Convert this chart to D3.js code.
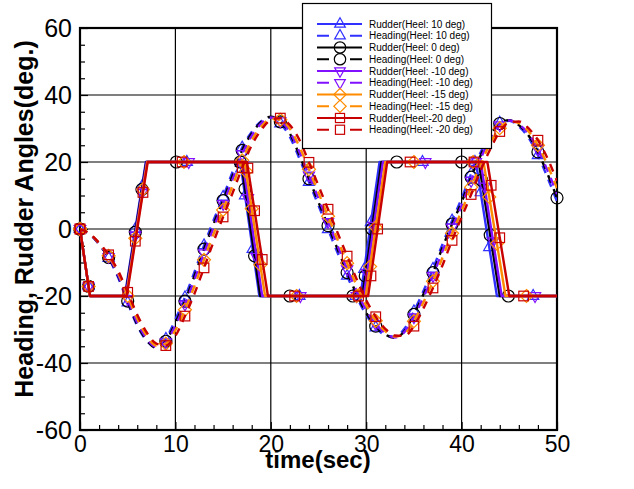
<!DOCTYPE html>
<html><head><meta charset="utf-8">
<script src="https://cdn.jsdelivr.net/npm/d3@7"></script>
<style>
body{margin:0;background:#fff}
svg{display:block}
text{font-family:"Liberation Sans",Arial,Helvetica,sans-serif;fill:#000}
</style>
</head><body>
<svg id="chart" width="634" height="489"></svg>
<script>
// ---------------- DATA ----------------
const heels = ["10", "0", "-10", "-15", "-20"];
const seriesColors = ["#3030ff", "#000000", "#8010ff", "#ff8c00", "#c80000"];
const seriesSymbols = ["triangle", "circle", "triangleDown", "diamond", "square"];

const legendLabels = [
  "Rudder(Heel: 10 deg)", "Heading(Heel: 10 deg)",
  "Rudder(Heel: 0 deg)", "Heading(Heel: 0 deg)",
  "Rudder(Heel: -10 deg)", "Heading(Heel: -10 deg)",
  "Rudder(Heel: -15 deg)", "Heading(Heel: -15 deg)",
  "Rudder(Heel:-20 deg)", "Heading(Heel: -20 deg)"
];

const xMajorTicks = [0, 10, 20, 30, 40, 50];
const yMajorTicks = [-60, -40, -20, 0, 20, 40, 60];
const xMinorTicks = [2,4,6,8,12,14,16,18,22,24,26,28,32,34,36,38,42,44,46,48];
const yMinorTicks = [-55,-50,-45,-35,-30,-25,-15,-10,-5,5,10,15,25,30,35,45,50,55];

// rudder angle: break-point times (s) and values (deg)
const rudderValues = [0, -20, -20, 20, 20, -20, -20, 20, 20, -20, -20];
const rudderTime10  = [0, 1.05, 4.70, 6.90, 16.80, 18.80, 29.40, 31.40, 41.50, 43.70, 50];
const rudderTime0   = [0, 1.05, 4.75, 6.95, 16.90, 18.90, 29.60, 31.60, 41.80, 44.00, 50];
const rudderTimeM10 = [0, 1.05, 4.80, 7.00, 17.05, 19.10, 29.75, 31.75, 42.00, 44.20, 50];
const rudderTimeM15 = [0, 1.05, 4.85, 7.05, 17.25, 19.40, 29.95, 32.00, 42.30, 44.60, 50];
const rudderTimeM20 = [0, 1.05, 4.90, 7.10, 17.50, 19.70, 30.20, 32.20, 42.70, 45.00, 50];

// rudder marker times (s)
const rudderMarks10  = [0, 0.9, 5.8, 6.5, 11.2, 16.9, 17.3, 18.1, 23.0, 28.9, 29.8, 30.5, 35.9, 41.4, 42.0, 42.9, 47.5];
const rudderMarks0   = [0, 0.9, 5.8, 6.5, 10.1, 16.8, 17.3, 18.3, 22.0, 28.6, 29.9, 30.6, 33.2, 40.0, 42.1, 43.0, 44.9];
const rudderMarksM10 = [0, 0.9, 5.8, 6.5, 11.4, 17.1, 17.6, 18.5, 23.1, 29.0, 30.1, 30.8, 36.2, 41.5, 42.4, 43.3, 47.7];
const rudderMarksM15 = [0, 0.9, 5.8, 6.6, 10.9, 17.4, 18.0, 18.9, 22.7, 29.0, 30.4, 31.0, 35.0, 41.2, 42.9, 43.7, 46.8];
const rudderMarksM20 = [0, 0.9, 5.8, 6.6, 10.7, 17.6, 18.3, 19.1, 22.5, 29.2, 30.5, 31.2, 34.6, 41.3, 43.1, 44.0, 46.5];

// heading angle sampled every second, t = 0..50 s
const headingTime = d3.range(0, 51, 1);
const heading10 = [0,-1.5,-4.6,-8.7,-14.5,-22,-28.9,-33.4,-35.3,-32.8,-27,-20.4,-12.8,-4.9,2.6,9.6,17.1,24.3,29,32.2,33.3,31.5,27.5,21,14,7,-0.1,-7.1,-14,-20.3,-25.6,-29.4,-31.7,-32.2,-29.8,-24.6,-18.5,-11.9,-4.5,2.5,9.1,16.5,22.9,28.5,31.7,32.3,30.6,27.3,22,15.4,8.2];
const heading0  = [0,-1.5,-4.5,-8.5,-14,-21.5,-28.5,-33.2,-35.5,-33.5,-28,-21.5,-14,-6,1.5,8.5,16,23.5,28.5,32,33.5,32,28.5,22,15,8,1,-6,-13,-19.5,-25,-29,-31.5,-32.5,-30.5,-25.5,-19.5,-13,-5.5,1.5,8,15.5,22,28,31.5,32.5,31,28,23,16.5,9.3];
const headingM10 = [0,-1.5,-4.4,-8.3,-13.7,-20.9,-27.9,-32.7,-35.2,-33.8,-28.8,-22.5,-15.1,-7.2,0.4,7.5,14.9,22.4,27.8,31.5,33.3,32.2,29,23,16,9.1,2.1,-5,-12,-18.5,-24.2,-28.4,-31.1,-32.4,-30.8,-26.3,-20.4,-14,-6.6,0.5,7,14.4,21,27.1,31,32.4,31.2,28.5,23.8,17.5,10.4];
const headingM15 = [0,-1.4,-4.3,-8,-13.1,-20,-26.8,-31.9,-34.8,-34.2,-30.2,-24.1,-17,-9.2,-1.5,5.7,13,20.5,26.5,30.6,32.9,32.6,29.9,24.6,17.8,10.8,3.8,-3.2,-10.2,-16.9,-22.8,-27.4,-30.5,-32.1,-31.3,-27.5,-21.9,-15.6,-8.5,-1.3,5.4,12.5,19.4,25.6,30.1,32.1,31.6,29.2,25,19.1,12.2];
const headingM20 = [0,-1.4,-4.1,-7.7,-12.5,-18.9,-25.6,-30.9,-34.2,-34.8,-31.9,-26,-19.3,-11.6,-3.8,3.6,10.8,18.3,25,29.6,32.5,33.1,31,26.6,19.9,12.9,5.9,-1.1,-8.1,-15,-21.2,-26.2,-29.8,-31.8,-31.9,-29,-23.7,-17.6,-10.8,-3.4,3.5,10.3,17.5,23.8,29.1,31.8,32.1,30.1,26.5,21.1,14.3];

// sample indices that carry a marker on the heading curves
const headingMarks0 = [0, 3, 5, 9, 11, 13, 15, 17, 21, 24, 26, 28, 31, 35, 37, 39, 41, 44, 48, 50];
const headingMarksOther = [0, 3, 5, 9, 11, 13, 15, 17, 21, 24, 26, 28, 31, 35, 37, 39, 41, 44, 48];

const rudderTimes = [rudderTime10, rudderTime0, rudderTimeM10, rudderTimeM15, rudderTimeM20];
const rudderMarks = [rudderMarks10, rudderMarks0, rudderMarksM10, rudderMarksM15, rudderMarksM20];
const headings = [heading10, heading0, headingM10, headingM15, headingM20];
const headingMarks = [headingMarksOther, headingMarks0, headingMarksOther, headingMarksOther, headingMarksOther];

// ---------------- CHART ----------------
const svg = d3.select("#chart");
const L = 80, R = 557, T = 28, B = 430;
const x = d3.scaleLinear().domain([0, 50]).range([L, R]);
const y = d3.scaleLinear().domain([-60, 60]).range([B, T]);

svg.append("rect").attr("width", 634).attr("height", 489).attr("fill", "#fff");

// grid lines
svg.append("g").selectAll("line").data(xMajorTicks.slice(1, -1)).join("line")
  .attr("x1", d => x(d)).attr("x2", d => x(d)).attr("y1", T).attr("y2", B)
  .attr("stroke", "#000").attr("stroke-width", 1.2);
svg.append("g").selectAll("line").data(yMajorTicks.slice(1, -1)).join("line")
  .attr("y1", d => y(d)).attr("y2", d => y(d)).attr("x1", L).attr("x2", R)
  .attr("stroke", "#000").attr("stroke-width", 1.2);

// axes
const fmt = d => String(d);
const xMinor = svg.append("g").attr("transform", `translate(0,${B})`)
  .call(d3.axisBottom(x).tickValues(xMinorTicks).tickSize(-5).tickFormat(""));
const xMajor = svg.append("g").attr("transform", `translate(0,${B})`)
  .call(d3.axisBottom(x).tickValues(xMajorTicks).tickSize(-8).tickPadding(6).tickFormat(fmt));
const yMinor = svg.append("g").attr("transform", `translate(${L},0)`)
  .call(d3.axisLeft(y).tickValues(yMinorTicks).tickSize(-5).tickFormat(""));
const yMajor = svg.append("g").attr("transform", `translate(${L},0)`)
  .call(d3.axisLeft(y).tickValues(yMajorTicks).tickSize(-8).tickPadding(8).tickFormat(fmt));
[xMinor, xMajor, yMinor, yMajor].forEach(g => {
  g.select(".domain").remove();
  g.selectAll(".tick line").attr("stroke", "#000").attr("stroke-width", 1.2);
});
xMajor.selectAll("text").attr("font-size", 23).attr("font-family", "Liberation Sans, Arial, sans-serif").attr("fill", "#000");
yMajor.selectAll("text").attr("font-size", 25).attr("font-family", "Liberation Sans, Arial, sans-serif").attr("fill", "#000");

// frame
svg.append("rect").attr("x", L).attr("y", T).attr("width", R - L).attr("height", B - T)
  .attr("fill", "none").attr("stroke", "#000").attr("stroke-width", 2.2);

// axis titles
svg.append("text").attr("x", 318).attr("y", 468).attr("text-anchor", "middle")
  .attr("font-size", 24).attr("font-weight", "bold").text("time(sec)");
svg.append("text").attr("transform", "translate(33,219) rotate(-90)").attr("text-anchor", "middle")
  .attr("font-size", 25).attr("font-weight", "bold").text("Heading, Rudder Angles(deg.)");

// clip for lines
svg.append("clipPath").attr("id", "plotclip").append("rect")
  .attr("x", L).attr("y", T).attr("width", R - L).attr("height", B - T);

function drawMarker(g, kind, cx, cy, color, s) {
  s = s || 1;
  if (kind === "circle") {
    g.append("circle").attr("cx", cx).attr("cy", cy).attr("r", 6 * s)
      .attr("fill", "none").attr("stroke", color).attr("stroke-width", 1.2);
  } else if (kind === "square") {
    g.append("rect").attr("x", cx - 4.8 * s).attr("y", cy - 4.8 * s).attr("width", 9.6 * s).attr("height", 9.6 * s)
      .attr("fill", "none").attr("stroke", color).attr("stroke-width", 1.2);
  } else {
    let pts;
    if (kind === "triangle") pts = [[0, -6.5], [5.6, 3.3], [-5.6, 3.3]];
    else if (kind === "triangleDown") pts = [[0, 6.5], [5.6, -3.3], [-5.6, -3.3]];
    else pts = [[0, -6.5], [6.5, 0], [0, 6.5], [-6.5, 0]];
    g.append("path").attr("d", "M" + pts.map(p => [cx + p[0] * s, cy + p[1] * s].join(",")).join("L") + "Z")
      .attr("fill", "none").attr("stroke", color).attr("stroke-width", 1.2);
  }
}

const lineGen = d3.line().x(d => x(d[0])).y(d => y(d[1]));
const curveGen = d3.line().x(d => x(d[0])).y(d => y(d[1])).curve(d3.curveMonotoneX);

heels.forEach((h, i) => {
  const col = seriesColors[i], sym = seriesSymbols[i];
  const g = svg.append("g");
  // rudder
  const rt = rudderTimes[i];
  const rData = rt.map((t, k) => [t, rudderValues[k]]);
  g.append("path").attr("d", lineGen(rData)).attr("clip-path", "url(#plotclip)")
    .attr("fill", "none").attr("stroke", col).attr("stroke-width", 2.4).attr("stroke-linejoin", "round");
  const rScale = d3.scaleLinear().domain(rt).range(rudderValues);
  rudderMarks[i].forEach(t => drawMarker(g, sym, x(t), y(rScale(t)), col));
  // heading
  const hv = headings[i];
  const hData = headingTime.map((t, k) => [t, hv[k]]);
  g.append("path").attr("d", curveGen(hData)).attr("clip-path", "url(#plotclip)")
    .attr("fill", "none").attr("stroke", col).attr("stroke-width", 2.4).attr("stroke-dasharray", "8,7");
  headingMarks[i].forEach(k => drawMarker(g, sym, x(headingTime[k]), y(hv[k]), col));
});

// legend
const lg = svg.append("g");
lg.append("rect").attr("x", 302.5).attr("y", 3.5).attr("width", 189).attr("height", 145)
  .attr("fill", "#fff").attr("stroke", "#000").attr("stroke-width", 1.2);
legendLabels.forEach((lab, j) => {
  const i = Math.floor(j / 2), dashed = j % 2 === 1;
  const col = seriesColors[i];
  const cy = 24 + j * 11.75;
  lg.append("line").attr("x1", 317).attr("x2", 362).attr("y1", cy).attr("y2", cy)
    .attr("stroke", col).attr("stroke-width", 2.2)
    .attr("stroke-dasharray", dashed ? "12,21,12" : null);
  drawMarker(lg, seriesSymbols[i], 340, cy, col, 0.95);
  lg.append("text").attr("x", 369).attr("y", cy + 3.6).attr("font-size", 10).text(lab);
});
</script>
</body></html>
